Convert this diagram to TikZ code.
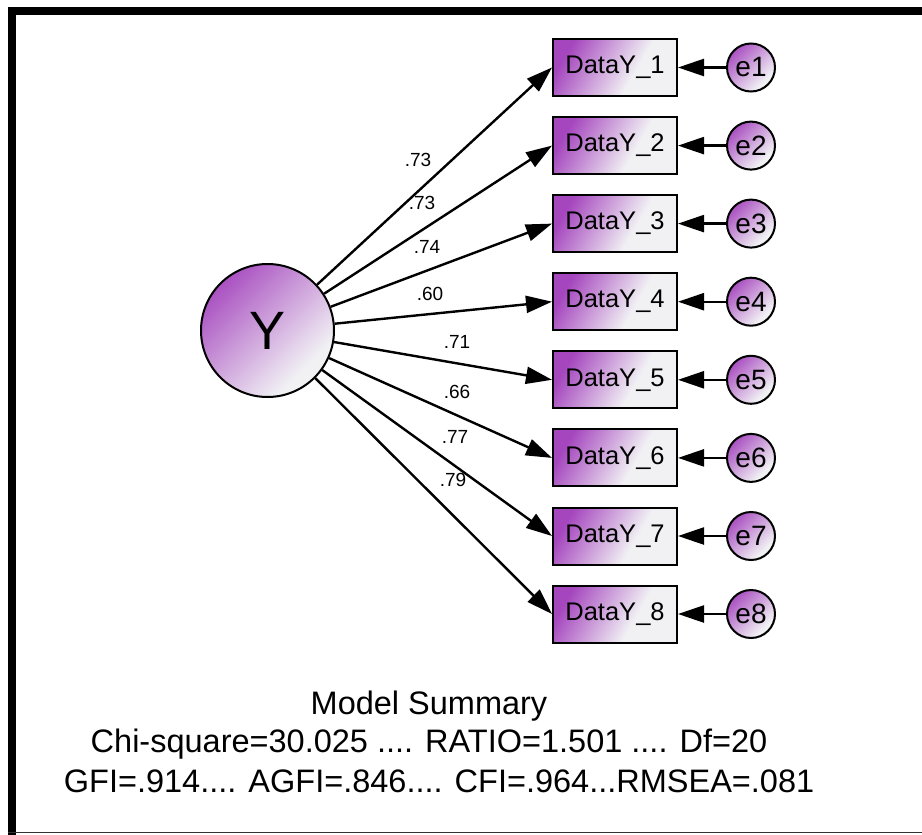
\documentclass[tikz,border=0pt]{standalone}
\usepackage{fontspec}
\setmainfont{Liberation Sans}
\usetikzlibrary{arrows.meta}
\definecolor{amospurple}{RGB}{165,70,190}
\definecolor{amospale}{RGB}{241,241,244}
\pgfdeclarehorizontalshading{amosfill}{100bp}{color(0bp)=(amospurple); color(25bp)=(amospurple); color(60bp)=(amospale); color(100bp)=(amospale)}
\pgfdeclarehorizontalshading{amosround}{100bp}{color(0bp)=(amospurple); color(22bp)=(amospurple); color(70bp)=(amospale); color(100bp)=(amospale)}
\tikzset{
  observed/.style={draw, line width=2pt, rectangle, minimum width=124pt, minimum height=57pt,
    inner sep=0pt, shading=amosfill, shading angle=-30, font=\fontsize{25.5}{30}\selectfont},
  latent/.style={draw, line width=2pt, circle, minimum size=133pt, inner sep=0pt,
    shading=amosround, shading angle=-45, font=\fontsize{54}{60}\selectfont},
  errterm/.style={draw, line width=2pt, circle, minimum size=48pt, inner sep=0pt,
    shading=amosround, shading angle=-45, font=\fontsize{28}{32}\selectfont},
  path/.style={line width=2.4pt, -{Triangle[length=26pt,width=17pt]}},
  loading/.style={font=\fontsize{19}{22}\selectfont, inner sep=0pt},
  summary/.style={font=\fontsize{32.5}{38}\selectfont, inner sep=0pt}
}
\begin{document}
\begin{tikzpicture}[x=1pt,y=-1pt]
\useasboundingbox (0,0) rectangle (922,835);
% page frame
\fill[black] (8,7) rectangle (16,835);
\fill[black] (8,7) rectangle (922,15);
\draw[line width=1.5pt, black!80] (8,832.5) -- (922,832.5);

% latent factor
\node[latent] (Y) at (267.5,330.5) {Y};

% indicators and error terms
\foreach \i/\yy in {1/67.5,2/145.6,3/223.6,4/301.7,5/379.8,6/457.9,7/536,8/614}{
  \node[observed] (b\i) at (615,\yy) {DataY\_\i};
  \node[errterm] (e\i) at (751,\yy) {e\i};
  \draw[path] (e\i) -- (b\i);
  \draw[path] (Y) -- (b\i.west);
}

% standardized loadings
\node[loading] (l1) at (418,160) {.73};
\node[loading] (l2) at (422,203) {.73};
\node[loading] (l3) at (427,247) {.74};
\node[loading] (l4) at (430,294) {.60};
\node[loading] (l5) at (457,342) {.71};
\node[loading] (l6) at (457,392) {.66};
\node[loading] (l7) at (455,437) {.77};
\node[loading] (l8) at (453,480) {.79};

% fit summary
\node[summary] (s1) at (429,706) {Model Summary};
\node[summary] (s2) at (429,744) {Chi-square=30.025 .... RATIO=1.501 .... Df=20};
\node[summary] (s3) at (439,781) {GFI=.914.... AGFI=.846.... CFI=.964...RMSEA=.081};
\end{tikzpicture}
\end{document}
